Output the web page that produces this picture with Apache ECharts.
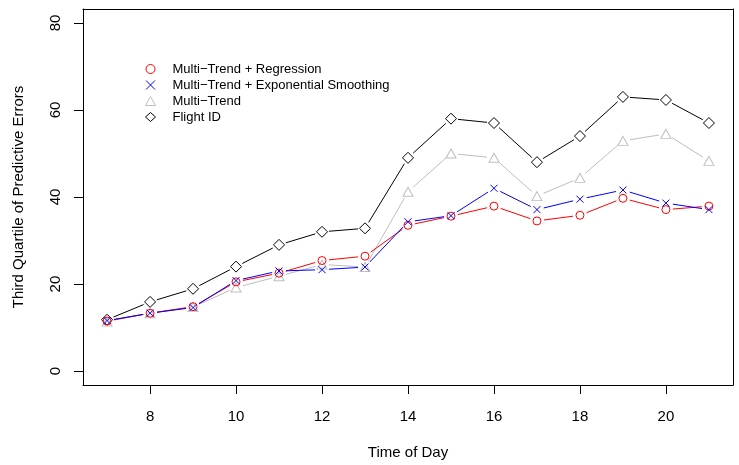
<!DOCTYPE html>
<html>
<head>
<meta charset="utf-8">
<script src="https://cdn.jsdelivr.net/npm/echarts@6/dist/echarts.min.js"></script>
<style>
  html, body { margin: 0; padding: 0; background: #ffffff; }
  #chart { width: 739px; height: 465px; }
</style>
</head>
<body>
<div id="chart"></div>
<script>
// Hour of day on the x axis
const hours = [7, 8, 9, 10, 11, 12, 13, 14, 15, 16, 17, 18, 19, 20, 21];

// Third quartile of predictive errors per method
const regression   = [11.5, 13.3, 14.8, 20.5, 22.5, 25.4, 26.4, 33.5, 35.6, 37.9, 34.5, 35.8, 39.7, 37.1, 37.9];
const expSmoothing = [11.6, 13.3, 14.6, 20.8, 23.0, 23.3, 23.9, 34.3, 35.7, 42.0, 37.1, 39.5, 41.6, 38.6, 37.1];
const multiTrend   = [11.4, 13.3, 14.7, 19.2, 21.8, 24.5, 23.9, 41.2, 50.0, 49.0, 40.2, 44.4, 52.9, 54.5, 48.3];
const flightId     = [11.8, 15.9, 18.9, 24.0, 29.0, 32.0, 32.8, 49.0, 58.0, 57.0, 48.0, 54.0, 63.0, 62.3, 57.0];

// Tick labels
const xTicks = [8, 10, 12, 14, 16, 18, 20];
const yTicks = [0, 20, 40, 60, 80];

const seriesNames = [
  'Multi\u2212Trend + Regression',
  'Multi\u2212Trend + Exponential Smoothing',
  'Multi\u2212Trend',
  'Flight ID'
];

const FONT = '"Liberation Sans", Arial, Helvetica, sans-serif';
const crossPath = 'path://M0,0L10,10M10,0L0,10';

// Each method: values, colour, marker
const methods = [
  { name: seriesNames[3], values: flightId,     color: '#000000', symbol: 'diamond',  size: 11 },
  { name: seriesNames[2], values: multiTrend,   color: '#BEBEBE', symbol: 'triangle', size: [10, 9] },
  { name: seriesNames[0], values: regression,   color: '#FF0000', symbol: 'circle',   size: 8 },
  { name: seriesNames[1], values: expSmoothing, color: '#0000FF', symbol: crossPath,  size: 7 }
];

function pairs(values) {
  return hours.map((h, i) => [h, values[i]]);
}

function segments(values) {
  const out = [];
  for (let i = 0; i + 1 < hours.length; i++) {
    out.push([hours[i], values[i], hours[i + 1], values[i + 1]]);
  }
  return out;
}

// Connecting segments stop short of the markers (points-and-lines style)
function gappedLine(color, gap) {
  return function (params, api) {
    const a = api.coord([api.value(0), api.value(1)]);
    const b = api.coord([api.value(2), api.value(3)]);
    const dx = b[0] - a[0], dy = b[1] - a[1];
    const len = Math.sqrt(dx * dx + dy * dy);
    if (len <= gap * 2) return null;
    const ux = dx / len, uy = dy / len;
    return {
      type: 'line',
      shape: {
        x1: a[0] + ux * gap, y1: a[1] + uy * gap,
        x2: b[0] - ux * gap, y2: b[1] - uy * gap
      },
      style: { stroke: color, lineWidth: 1 },
      silent: true
    };
  };
}

const series = [];
methods.forEach(m => {
  series.push({
    type: 'custom',
    name: m.name + ' lines',
    data: segments(m.values),
    encode: { x: [0, 2], y: [1, 3] },
    renderItem: gappedLine(m.color, 7),
    silent: true,
    animation: false
  });
});
methods.forEach(m => {
  series.push({
    type: 'scatter',
    name: m.name,
    data: pairs(m.values),
    symbol: m.symbol,
    symbolSize: m.size,
    itemStyle: { color: 'none', borderColor: m.color, borderWidth: 1, opacity: 1 },
    emphasis: { disabled: true },
    animation: false
  });
});

const legendIcons = {};
legendIcons[seriesNames[0]] = { icon: 'circle',   color: '#FF0000' };
legendIcons[seriesNames[1]] = { icon: crossPath,  color: '#0000FF' };
legendIcons[seriesNames[2]] = { icon: 'triangle', color: '#BEBEBE' };
legendIcons[seriesNames[3]] = { icon: 'diamond',  color: '#000000' };

const boxAxis = {
  type: 'value',
  axisLine: { show: true, onZero: false, lineStyle: { color: '#000000', width: 1 } },
  axisTick: { show: false },
  axisLabel: { show: false },
  splitLine: { show: false }
};

const chart = echarts.init(document.getElementById('chart'), null, { renderer: 'canvas' });
chart.setOption({
  backgroundColor: '#ffffff',
  animation: false,
  grid: { left: 83, right: 6, top: 9, bottom: 80, show: false },
  legend: {
    orient: 'vertical',
    left: 138, top: 56,
    itemWidth: 10, itemHeight: 9, itemGap: 0,
    symbolKeepAspect: true,
    selectedMode: false,
    textStyle: { fontFamily: FONT, fontSize: 13, color: '#000000', lineHeight: 16, padding: [0, 0, 0, 12] },
    data: seriesNames.map(n => ({
      name: n,
      icon: legendIcons[n].icon,
      itemStyle: { color: 'none', borderColor: legendIcons[n].color, borderWidth: 1 }
    }))
  },
  xAxis: [{
    type: 'value',
    min: 6.44, max: 21.56,
    name: 'Time of Day',
    nameLocation: 'middle',
    nameGap: 60,
    nameTextStyle: { fontFamily: FONT, fontSize: 15, color: '#000000' },
    axisLine: { show: true, onZero: false, lineStyle: { color: '#000000', width: 1 } },
    axisTick: { show: true, length: 9, customValues: xTicks, lineStyle: { color: '#000000' } },
    axisLabel: { customValues: xTicks, margin: 24, fontFamily: FONT, fontSize: 15, color: '#000000' },
    splitLine: { show: false }
  }, Object.assign({}, boxAxis, { position: 'top', min: 6.44, max: 21.56 })],
  yAxis: [{
    type: 'value',
    min: -3.2, max: 83.2,
    name: 'Third Quartile of Predictive Errors',
    nameLocation: 'middle',
    nameGap: 57,
    nameTextStyle: { fontFamily: FONT, fontSize: 15, color: '#000000' },
    axisLine: { show: true, onZero: false, lineStyle: { color: '#000000', width: 1 } },
    axisTick: { show: true, length: 9, customValues: yTicks, lineStyle: { color: '#000000' } },
    axisLabel: { customValues: yTicks, rotate: 90, margin: 20, fontFamily: FONT, fontSize: 15, color: '#000000' },
    splitLine: { show: false }
  }, Object.assign({}, boxAxis, { position: 'right', min: -3.2, max: 83.2 })],
  series: series
});
</script>
</body>
</html>
